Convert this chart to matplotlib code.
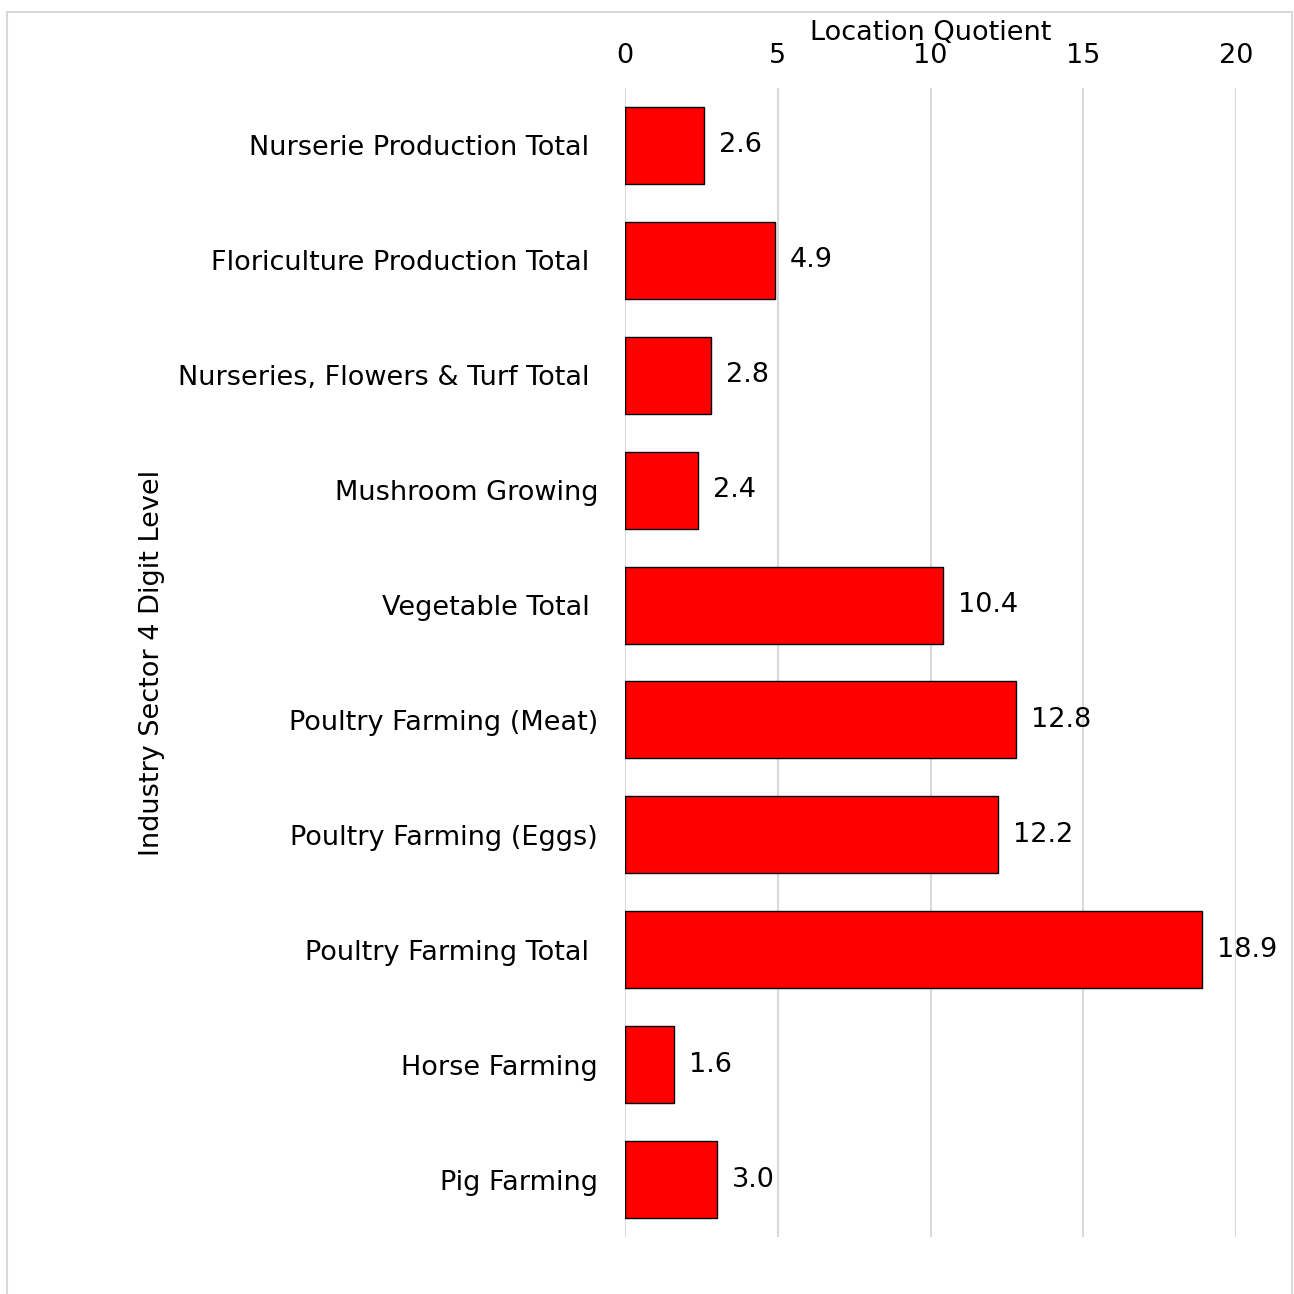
import matplotlib

matplotlib.use("Agg")
import matplotlib.pyplot as plt
from matplotlib.patches import Rectangle

# ---------------------------------------------------------------------------
# Data (top to bottom as shown)
# ---------------------------------------------------------------------------
categories = [
    "Nurserie Production Total ",
    "Floriculture Production Total ",
    "Nurseries, Flowers & Turf Total ",
    "Mushroom Growing",
    "Vegetable Total ",
    "Poultry Farming (Meat)",
    "Poultry Farming (Eggs)",
    "Poultry Farming Total ",
    "Horse Farming",
    "Pig Farming",
]
location_quotient = [2.6, 4.9, 2.8, 2.4, 10.4, 12.8, 12.2, 18.9, 1.6, 3.0]
x_ticks = [0, 5, 10, 15, 20]

FONT = 19.5
W, H = 1294, 1294

fig = plt.figure(figsize=(W / 100, H / 100), dpi=100)
ax = fig.add_axes([625 / W, 57 / H, 611 / W, 1149 / H])

# outer chart-area border
fig.patches.append(
    Rectangle((7 / W, -0.05), 1285 / W, 1.05 - 12 / H, transform=fig.transFigure,
              fill=False, edgecolor="#d9d9d9", linewidth=1.5)
)

y_pos = list(range(len(categories)))
bars = ax.barh(y_pos, location_quotient, height=0.67, color="#ff0000",
               edgecolor="black", linewidth=1.0, zorder=3)

for rect, val in zip(bars, location_quotient):
    ax.annotate(f"{val:.1f}", xy=(rect.get_width(), rect.get_y() + rect.get_height() / 2),
                xytext=(15, 0), textcoords="offset pixels", va="center", ha="left",
                fontsize=FONT, color="black")

ax.set_ylim(len(categories) - 0.5, -0.5)
ax.set_yticks(y_pos)
ax.set_yticklabels(categories, fontsize=FONT)
ax.set_xlim(0, 20)
ax.set_xticks(x_ticks)
ax.set_xticklabels([str(t) for t in x_ticks], fontsize=FONT)

ax.xaxis.tick_top()
ax.tick_params(axis="x", length=0, pad=14)
ax.tick_params(axis="y", length=0, pad=19.4)
for s in ax.spines.values():
    s.set_visible(False)

ax.grid(axis="x", color="#d9d9d9", linewidth=1.5, zorder=0)
ax.set_axisbelow(True)

ax.set_xlabel("Location Quotient", fontsize=FONT)
ax.xaxis.set_label_position("top")
ax.xaxis.set_label_coords(0.5, 1 + 55 / 1149)
ax.xaxis.label.set_va("center")

ax.set_ylabel("Industry Sector 4 Digit Level", fontsize=FONT)
ax.yaxis.set_label_coords(-(625 - 152) / 611, 0.5)
ax.yaxis.label.set_va("center")

fig.savefig("out.png", dpi=100)
plt.close(fig)
